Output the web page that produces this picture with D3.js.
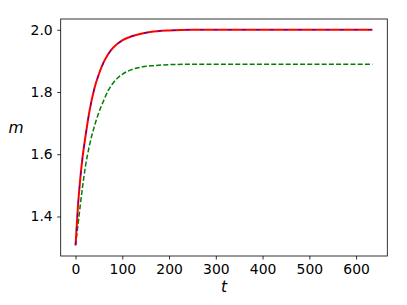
<!DOCTYPE html>
<html>
<head>
<meta charset="utf-8">
<script src="https://cdn.jsdelivr.net/npm/d3@7"></script>
<style>
  html, body { margin: 0; padding: 0; background: #fff; }
  svg { display: block; }
  .tick text { font-family: "DejaVu Sans", sans-serif; font-size: 13.9px; fill: #000; }
</style>
</head>
<body>
<svg id="chart" width="407" height="305"></svg>
<script>
// ---- data ----
const tRed   = [0, 5, 10, 15, 20, 25, 30, 40, 50, 60, 70, 80, 100, 120, 140, 160, 200, 250, 635];
const mRed   = [1.3076, 1.43, 1.52, 1.59, 1.645, 1.695, 1.74, 1.81, 1.858, 1.895, 1.922, 1.942, 1.966, 1.979, 1.987, 1.993, 1.998, 2.0, 2.0];
const tBlue  = [0, 5, 10, 15, 20, 25, 30, 40, 50, 60, 70, 80, 100, 120, 140, 160, 200, 250, 635];
const mBlue  = [1.3076, 1.43, 1.52, 1.59, 1.645, 1.695, 1.74, 1.81, 1.858, 1.895, 1.922, 1.942, 1.966, 1.979, 1.987, 1.993, 1.998, 2.0, 2.0];
const tGreen = [0, 5, 10, 15, 20, 30, 40, 50, 60, 70, 80, 90, 100, 120, 140, 170, 200, 250, 635];
const mGreen = [1.3076, 1.37, 1.435, 1.495, 1.55, 1.63, 1.688, 1.735, 1.772, 1.805, 1.828, 1.845, 1.857, 1.872, 1.88, 1.885, 1.888, 1.8892, 1.8895];
const xTicks = [0, 100, 200, 300, 400, 500, 600];
const yTicks = [1.4, 1.6, 1.8, 2.0];
const xLabel = "t";
const yLabel = "m";

// ---- layout ----
const pLeft = 60.7, pRight = 387.3, pTop = 19, pBottom = 256;
const svg = d3.select("#chart");

const tMin = d3.min([...tRed, ...tGreen]), tMax = d3.max([...tRed, ...tGreen]);
const mMin = d3.min([...mRed, ...mGreen]), mMax = d3.max([...mRed, ...mGreen]);
const tPad = (tMax - tMin) * 0.05, mPad = (mMax - mMin) * 0.05;

const x = d3.scaleLinear().domain([tMin - tPad, tMax + tPad]).range([pLeft, pRight]);
const y = d3.scaleLinear().domain([mMin - mPad, mMax + mPad]).range([pBottom, pTop]);

// axes
const xAxis = d3.axisBottom(x).tickValues(xTicks).tickSize(3.5).tickPadding(5).tickFormat(d3.format("d"));
const yAxis = d3.axisLeft(y).tickValues(yTicks).tickSize(3.5).tickPadding(4.5).tickFormat(d3.format(".1f"));

const gx = svg.append("g").attr("transform", `translate(0,${pBottom})`).call(xAxis);
const gy = svg.append("g").attr("transform", `translate(${pLeft},0)`).call(yAxis);
[gx, gy].forEach(g => {
  g.select(".domain").remove();
  g.selectAll(".tick line").attr("stroke", "#000").attr("stroke-width", 0.8);
});

// lines
const line = d3.line().x(d => x(d[0])).y(d => y(d[1])).curve(d3.curveMonotoneX);
const plot = svg.append("g");
plot.append("path").datum(d3.zip(tGreen, mGreen))
  .attr("d", line).attr("fill", "none").attr("stroke", "#008000")
  .attr("stroke-width", 1.5).attr("stroke-dasharray", "5,2.2");
plot.append("path").datum(d3.zip(tRed, mRed))
  .attr("d", line).attr("fill", "none").attr("stroke", "#ff0000")
  .attr("stroke-width", 2);
plot.append("path").datum(d3.zip(tBlue, mBlue))
  .attr("d", line).attr("fill", "none").attr("stroke", "#0000ff")
  .attr("stroke-width", 1.1).attr("stroke-dasharray", "4,10").attr("opacity", 0.75);

// frame
svg.append("rect").attr("x", pLeft).attr("y", pTop)
  .attr("width", pRight - pLeft).attr("height", pBottom - pTop)
  .attr("fill", "none").attr("stroke", "#000").attr("stroke-width", 0.8);

// axis labels
svg.append("text").attr("x", (pLeft + pRight) / 2).attr("y", 292)
  .attr("text-anchor", "middle").attr("font-family", "DejaVu Sans, sans-serif")
  .attr("font-style", "italic").attr("font-size", "15.5px").text(xLabel);
svg.append("text").attr("x", 16).attr("y", 133)
  .attr("text-anchor", "middle").attr("font-family", "DejaVu Sans, sans-serif")
  .attr("font-style", "italic").attr("font-size", "15.5px").text(yLabel);
</script>
</body>
</html>
